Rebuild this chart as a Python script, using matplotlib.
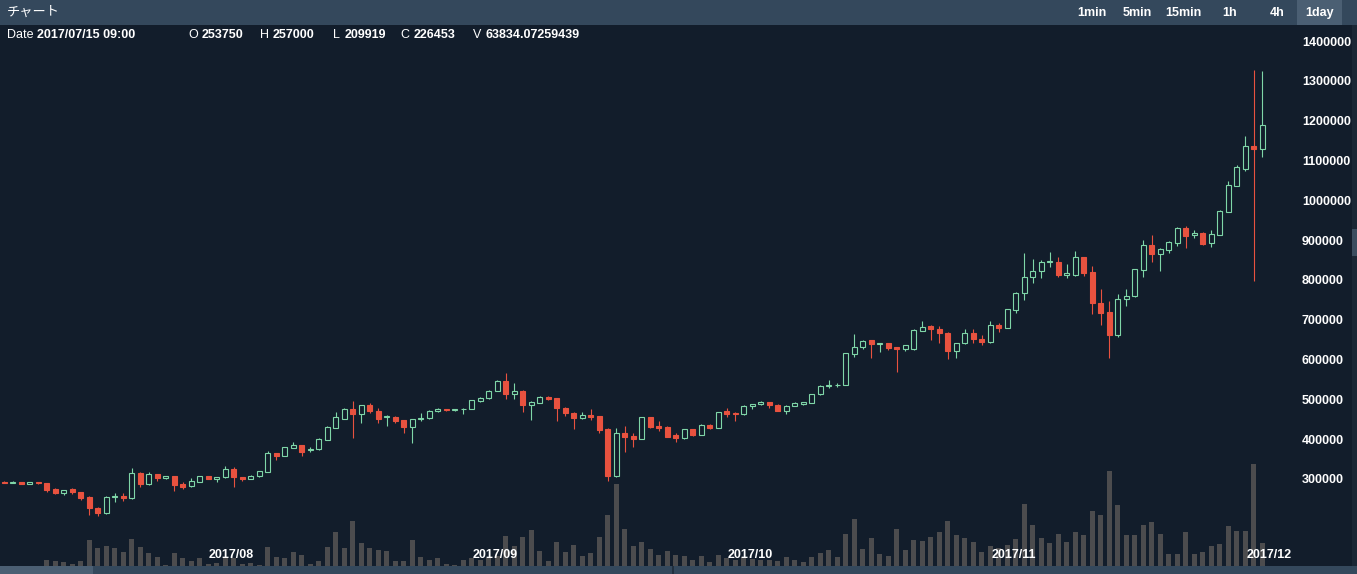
import numpy as np
import pandas as pd
import matplotlib
matplotlib.use("Agg")
import matplotlib.pyplot as plt
from matplotlib.patches import Rectangle
import matplotlib.transforms as mtransforms

# ---------------- data (prices in thousand JPY, volume in thousand BTC) ----------------
dates = pd.date_range("2017-07-05", periods=149, freq="D")

open_k = [293, 291, 292, 288, 292, 290, 274, 265, 274, 267,
          253.75, 226, 214, 255, 257, 251, 315, 287, 312, 303,
          307, 287, 282, 293, 307, 301, 304, 325, 305, 300,
          307, 318, 365, 358, 379, 385, 372, 375, 398, 429,
          452, 477, 464, 485, 470, 455, 457, 448, 431, 451,
          453, 472, 475, 473, 475, 477, 497, 503, 521, 547,
          514, 522, 485, 492, 507, 503, 479, 467, 454, 462,
          458, 426, 308, 415, 407, 401, 455, 434, 431, 410,
          402, 425, 411, 436, 428, 471, 467, 463, 484, 488,
          493, 487, 472, 484, 488, 492, 513, 534, 535, 536,
          615, 631, 649, 638, 641, 631, 627, 627, 672, 684,
          678, 668, 622, 641, 666, 652, 643, 687, 680, 725,
          768, 807, 823, 844, 846, 812, 813, 857, 819, 743,
          719, 661, 752, 760, 825, 887, 865, 875, 894, 930,
          913, 919, 892, 913, 972, 1037, 1080, 1136, 1128]
high_k = [294, 294, 293, 293, 293, 291, 278, 273, 278, 268,
          257, 230, 257, 266, 266, 327, 317, 318, 313, 308,
          308, 292, 303, 308, 308, 305, 333, 331, 306, 309,
          321, 371, 366, 381, 394, 386, 380, 402, 432, 469,
          478, 496, 487, 490, 478, 460, 458, 449, 452, 465,
          473, 478, 476, 477, 478, 499, 506, 524, 549, 567,
          540, 523, 495, 509, 508, 504, 480, 468, 469, 475,
          459, 429, 427, 433, 415, 456, 456, 446, 432, 416,
          426, 426, 438, 437, 469, 478, 468, 485, 489, 495,
          494, 488, 485, 493, 494, 514, 536, 549, 540, 617,
          664, 649, 650, 642, 642, 632, 637, 677, 697, 686,
          684, 670, 642, 677, 676, 662, 697, 691, 728, 770,
          867, 854, 850, 870, 859, 840, 873, 858, 835, 777,
          748, 766, 777, 828, 900, 913, 880, 898, 932, 936,
          925, 920, 926, 976, 1049, 1088, 1162, 1327, 1326]
low_k = [289, 290, 287, 287, 288, 267, 263, 259, 263, 248,
         209.919, 207, 212, 242, 244, 250, 279, 286, 295, 301,
         270, 275, 281, 292, 299, 293, 302, 279, 296, 299,
         306, 317, 348, 357, 378, 358, 369, 373, 397, 427,
         450, 404, 440, 467, 441, 433, 440, 415, 391, 446,
         451, 469, 471, 472, 463, 475, 494, 501, 520, 500,
         500, 469, 448, 490, 499, 446, 458, 426, 452, 448,
         415, 295, 306, 369, 381, 400, 429, 421, 405, 394,
         401, 408, 410, 426, 427, 457, 446, 462, 475, 486,
         478, 470, 463, 483, 487, 491, 512, 528, 532, 535,
         606, 627, 603, 620, 624, 570, 622, 625, 671, 649,
         641, 601, 603, 639, 641, 636, 642, 670, 679, 716,
         750, 792, 804, 833, 807, 804, 811, 810, 714, 687,
         605, 656, 735, 758, 807, 844, 823, 867, 885, 880,
         905, 889, 882, 912, 970, 1035, 1075, 798, 1110]
close_k = [291, 293, 288, 292, 289, 273, 265, 272, 267, 252,
           226.453, 214, 255, 257, 251, 315, 287, 312, 303, 307,
           284, 279, 295, 307, 301, 304, 324, 304, 300, 308,
           320, 365, 358, 380, 385, 369, 376, 400, 431, 455,
           477, 464, 485, 470, 452, 458, 446, 431, 451, 454,
           472, 475, 473, 476, 477, 498, 503, 522, 547, 514,
           522, 485, 493, 507, 501, 478, 465, 454, 461, 457,
           423, 308, 415, 405, 401, 455, 431, 429, 406, 402,
           425, 410, 436, 427, 468, 463, 463, 484, 488, 493,
           486, 472, 483, 492, 493, 513, 534, 536, 537, 616,
           632, 647, 638, 641, 628, 627, 636, 674, 683, 677,
           666, 622, 641, 666, 651, 643, 687, 680, 726, 768,
           807, 823, 844, 847, 812, 817, 857, 817, 741, 718,
           661, 751, 760, 827, 887, 865, 877, 896, 930, 911,
           919, 890, 915, 974, 1038, 1085, 1136, 1128, 1189]
volume_k = [0.6, 0.7, 0.8, 0.6, 0.7, 14.7, 12.3, 10.5, 4.2, 12.3,
            63.8, 44.1, 49.0, 44.1, 34.3, 66.9, 46.6, 31.9, 22.1, 2.5,
            31.9, 20.3, 12.3, 20.3, 5.6, 8.1, 22.8, 20.3, 5.6, 7.4,
            2.5, 46.6, 22.1, 19.6, 34.3, 27.0, 5.6, 12.3, 46.6, 83.3,
            43.4, 110.3, 56.4, 43.4, 39.2, 36.8, 12.3, 12.3, 63.7, 22.1,
            14.7, 20.3, 5.6, 2.5, 14.7, 19.6, 14.7, 19.6, 24.5, 73.5,
            49.0, 71.1, 88.2, 36.8, 12.3, 58.8, 34.3, 51.5, 24.5, 31.9,
            71.1, 125.0, 200.9, 90.7, 49.0, 58.8, 41.7, 27.0, 36.8, 27.0,
            24.5, 14.7, 24.5, 9.8, 27.0, 19.6, 14.7, 22.1, 17.2, 14.7,
            14.7, 12.3, 22.1, 14.7, 9.8, 22.1, 31.9, 39.2, 22.1, 78.4,
            115.2, 41.7, 68.6, 29.4, 24.5, 90.7, 39.2, 63.7, 61.3, 71.1,
            83.3, 110.3, 76.0, 68.6, 58.8, 34.3, 49.0, 44.1, 51.5, 66.2,
            151.9, 100.5, 68.6, 56.4, 78.4, 58.8, 83.3, 76.0, 134.8, 125.0,
            232.8, 149.5, 76.0, 76.0, 100.5, 107.8, 78.4, 29.4, 29.4, 83.3,
            29.4, 34.3, 49.0, 53.9, 98.0, 85.8, 85.8, 249.9, 56.4]

price_ticks = [300, 400, 500, 600, 700, 800, 900, 1000, 1100, 1200, 1300, 1400]
price_tick_labels = ["300000", "400000", "500000", "600000", "700000", "800000",
                     "900000", "1000000", "1100000", "1200000", "1300000", "1400000"]
month_labels = ["2017/08", "2017/09", "2017/10", "2017/11", "2017/12"]
month_starts = ["2017-08-01", "2017-09-01", "2017-10-01", "2017-11-01", "2017-12-01"]
intervals = ["1min", "5min", "15min", "1h", "4h", "1day"]

info_labels = ["Date", "O", "H", "L", "C", "V"]
info_values = ["2017/07/15 09:00", "253750", "257000", "209919", "226453", "63834.07259439"]

# ---------------- style ----------------
BG = "#121d2b"
HEADER = "#34485c"
HILITE = "#4b5f73"
GREEN = "#7fd6a8"
RED = "#e8523f"
VOLC = "#4c4c4e"
TXT = "#ffffff"
FONT = ["Liberation Sans", "DejaVu Sans"]

W, H = 1357, 574
fig = plt.figure(figsize=(W / 100, H / 100), dpi=100)
fig.patch.set_facecolor(BG)


def prect(x0, y0, x1, y1, color, z=0):
    fig.add_artist(Rectangle((x0 / W, 1 - y1 / H), (x1 - x0) / W, (y1 - y0) / H,
                             transform=fig.transFigure, facecolor=color,
                             edgecolor="none", zorder=z))


def ptext(x, y, s, **kw):
    fig.text(x / W, 1 - y / H, s, **kw)


# header bar
prect(0, 0, W, 25, HEADER, z=0)
prect(1297, 0, 1342, 25, HILITE, z=1)
ptext(7, 12.5, "チャート", color=TXT, fontsize=9.5, va="center", ha="left",
      family=["Noto Sans CJK JP", "DejaVu Sans"])
btn_x = [1092, 1137, 1183, 1230, 1277, 1319.5]
for bx, lab in zip(btn_x, intervals):
    ptext(bx, 13, lab, color=TXT, fontsize=9, fontweight="bold", va="center",
          ha="center", family=FONT)

# info row
lab_x = [7, 188, 260, 333, 400, 473]
val_x = [37, 202, 273, 345, 414, 486]
for lx, vx, lab, val in zip(lab_x, val_x, info_labels, info_values):
    ptext(lx, 34.5, lab, color=TXT, fontsize=9, va="center", ha="left", family=FONT)
    ptext(vx, 34.5, val, color=TXT, fontsize=9, fontweight="bold", va="center",
          ha="left", family=FONT)

# bottom strip and right edge
prect(0, 566, W, H, HEADER, z=0)
prect(0, 566, 93, H, HILITE, z=1)
prect(672, 566, 674, H, "#22303f", z=1)
prect(1352, 25, W, 566, "#1b2735", z=0)
prect(1352, 229, W, 256, "#3b4d5f", z=1)

# ---------------- axes ----------------
rect = [0, (H - 566) / H, 1296 / W, (566 - 25) / H]
axv = fig.add_axes(rect)
ax = fig.add_axes(rect, sharex=axv)
axv.set_zorder(1)
ax.set_zorder(2)
axv.set_facecolor(BG)
ax.set_facecolor("none")

x = np.arange(len(dates))
o = np.array(open_k, dtype=float)
h = np.array(high_k, dtype=float)
l = np.array(low_k, dtype=float)
c = np.array(close_k, dtype=float)
v = np.array(volume_k, dtype=float)
up = c >= o

# volume
axv.bar(x, v, width=0.6, color=VOLC, linewidth=0)
axv.set_ylim(0, 1325.5)
axv.axis("off")

# candles
ax.vlines(x[up], l[up], h[up], color=GREEN, lw=0.8, zorder=2)
ax.vlines(x[~up], l[~up], h[~up], color=RED, lw=0.8, zorder=2)
lo = np.minimum(o, c)
bh = np.maximum(np.abs(c - o), 1.5)
ax.bar(x[up], bh[up], bottom=lo[up], width=0.6, facecolor=BG, edgecolor=GREEN,
       linewidth=0.8, zorder=3)
ax.bar(x[~up], bh[~up], bottom=lo[~up], width=0.6, facecolor=RED, edgecolor=RED,
       linewidth=0.8, zorder=3)

ax.set_xlim(-0.506, 151.96)
ax.set_ylim(81.4, 1440.7)
for s in ax.spines.values():
    s.set_visible(False)
ax.set_xticks([])
ax.yaxis.tick_right()
ax.set_yticks(price_ticks, price_tick_labels, fontweight="bold", family=FONT)
ax.tick_params(axis="y", length=0, pad=4.3, labelsize=9, labelcolor=TXT)

# month labels
trans = mtransforms.blended_transform_factory(ax.transData, ax.transAxes)
for ms, ml in zip(month_starts, month_labels):
    idx = (pd.Timestamp(ms) - dates[0]).days
    ax.text(idx - 0.25, 0.0203, ml, transform=trans, color=TXT, fontsize=9,
            fontweight="bold", ha="center", va="center", family=FONT, zorder=5)

fig.savefig("out.png", dpi=100, facecolor=BG)
